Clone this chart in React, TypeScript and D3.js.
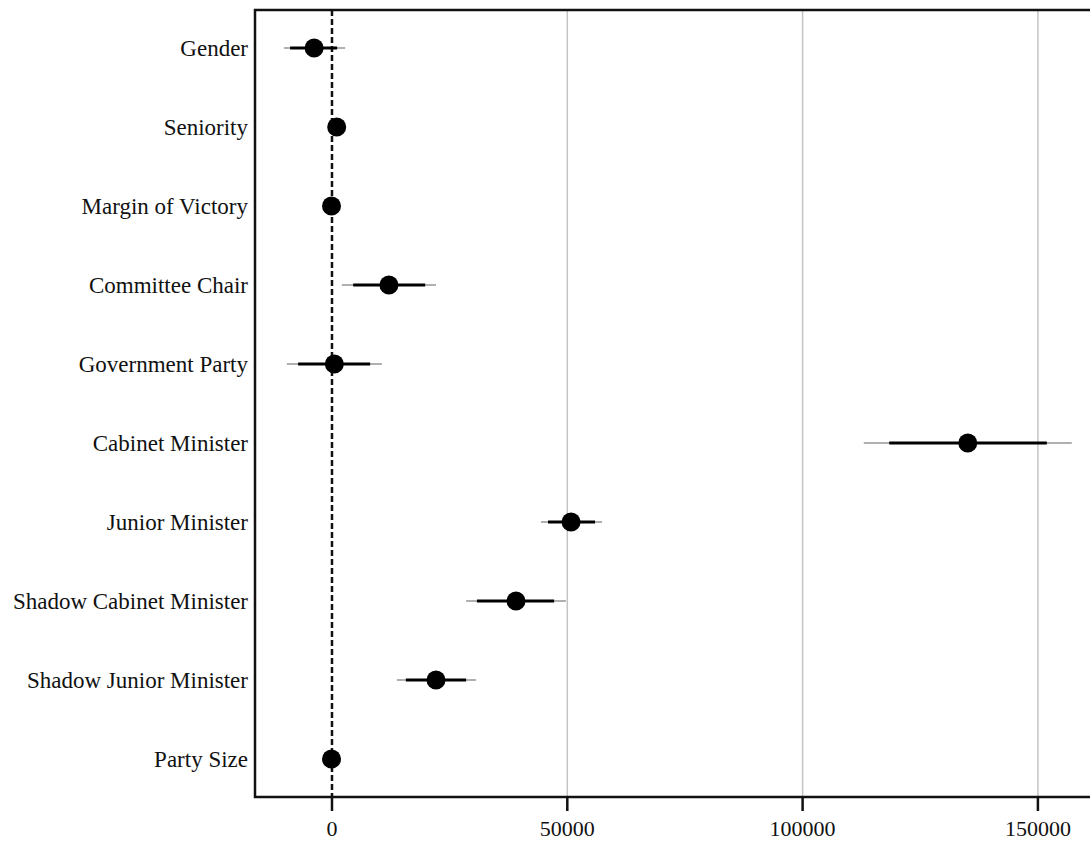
import React, { useEffect, useRef } from "react";
import * as d3 from "d3";

const variables = [
  "Gender",
  "Seniority",
  "Margin of Victory",
  "Committee Chair",
  "Government Party",
  "Cabinet Minister",
  "Junior Minister",
  "Shadow Cabinet Minister",
  "Shadow Junior Minister",
  "Party Size",
];

const estimates = [-3800, 1000, -100, 12100, 500, 135100, 50800, 39100, 22100, -100];
const innerLow = [-8900, 300, -500, 4500, -7200, 118400, 45900, 30800, 15700, -500];
const innerHigh = [1100, 1700, 300, 19800, 8100, 151900, 55900, 47200, 28500, 300];
const outerLow = [-10200, 0, -700, 2100, -9600, 113000, 44400, 28500, 13800, -700];
const outerHigh = [2800, 2000, 500, 22100, 10600, 157200, 57400, 49700, 30600, 500];

const xTicks = [0, 50000, 100000, 150000];

const CoefPlot = () => {
  const svgRef = useRef<SVGSVGElement>(null);

  useEffect(() => {
    const svg = d3.select(svgRef.current);
    svg.selectAll("*").remove();

    const width = 1090;
    const height = 843;
    const left = 255;
    const top = 10;
    const bottom = 797;
    const font = "'Liberation Serif', 'DejaVu Serif', serif";

    svg.attr("width", width).attr("height", height);

    const x = d3.scaleLinear().domain([-16360, 161070]).range([left, width]);
    const y = d3.scalePoint().domain(variables).range([48, 759]);

    // grid lines
    svg
      .append("g")
      .selectAll("line")
      .data(xTicks.filter((t) => t !== 0))
      .enter()
      .append("line")
      .attr("x1", (d) => x(d))
      .attr("x2", (d) => x(d))
      .attr("y1", top)
      .attr("y2", bottom)
      .attr("stroke", "#c4c4c4")
      .attr("stroke-width", 1.5);

    // zero line
    svg
      .append("line")
      .attr("x1", x(0))
      .attr("x2", x(0))
      .attr("y1", top)
      .attr("y2", bottom)
      .attr("stroke", "#111")
      .attr("stroke-width", 2.5)
      .attr("stroke-dasharray", "6,3");

    const rows = variables.map((v, i) => ({
      name: v,
      est: estimates[i],
      lo: innerLow[i],
      hi: innerHigh[i],
      lo2: outerLow[i],
      hi2: outerHigh[i],
    }));

    const g = svg.append("g");

    g.selectAll("line.outer")
      .data(rows)
      .enter()
      .append("line")
      .attr("class", "outer")
      .attr("x1", (d) => x(d.lo2))
      .attr("x2", (d) => x(d.hi2))
      .attr("y1", (d) => y(d.name)!)
      .attr("y2", (d) => y(d.name)!)
      .attr("stroke", "#b0b0b0")
      .attr("stroke-width", 2);

    g.selectAll("line.inner")
      .data(rows)
      .enter()
      .append("line")
      .attr("class", "inner")
      .attr("x1", (d) => x(d.lo))
      .attr("x2", (d) => x(d.hi))
      .attr("y1", (d) => y(d.name)!)
      .attr("y2", (d) => y(d.name)!)
      .attr("stroke", "#000")
      .attr("stroke-width", 3);

    g.selectAll("circle")
      .data(rows)
      .enter()
      .append("circle")
      .attr("cx", (d) => x(d.est))
      .attr("cy", (d) => y(d.name)!)
      .attr("r", 9.5)
      .attr("fill", "#000");

    // frame (right edge runs off the picture)
    svg
      .append("path")
      .attr("d", `M${width + 5},${top} H${left} V${bottom} H${width + 5}`)
      .attr("fill", "none")
      .attr("stroke", "#111")
      .attr("stroke-width", 2.5);

    // x axis ticks and labels
    const xAxis = svg.append("g");
    xTicks.forEach((t) => {
      xAxis
        .append("line")
        .attr("x1", x(t))
        .attr("x2", x(t))
        .attr("y1", bottom)
        .attr("y2", bottom + 14)
        .attr("stroke", "#111")
        .attr("stroke-width", 2.5);
      xAxis
        .append("text")
        .attr("x", x(t))
        .attr("y", bottom + 39)
        .attr("text-anchor", "middle")
        .style("font-family", font)
        .style("font-size", "22px")
        .style("fill", "#111")
        .text(t);
    });

    // y labels
    svg
      .append("g")
      .selectAll("text")
      .data(variables)
      .enter()
      .append("text")
      .attr("x", left - 7)
      .attr("y", (d) => y(d)! + 8)
      .attr("text-anchor", "end")
      .style("font-family", font)
      .style("font-size", "23px")
      .style("fill", "#111")
      .text((d) => d);
  }, []);

  return <svg ref={svgRef} style={{ position: "absolute", left: 0, top: 0 }}></svg>;
};

export default function App() {
  return <CoefPlot />;
}
